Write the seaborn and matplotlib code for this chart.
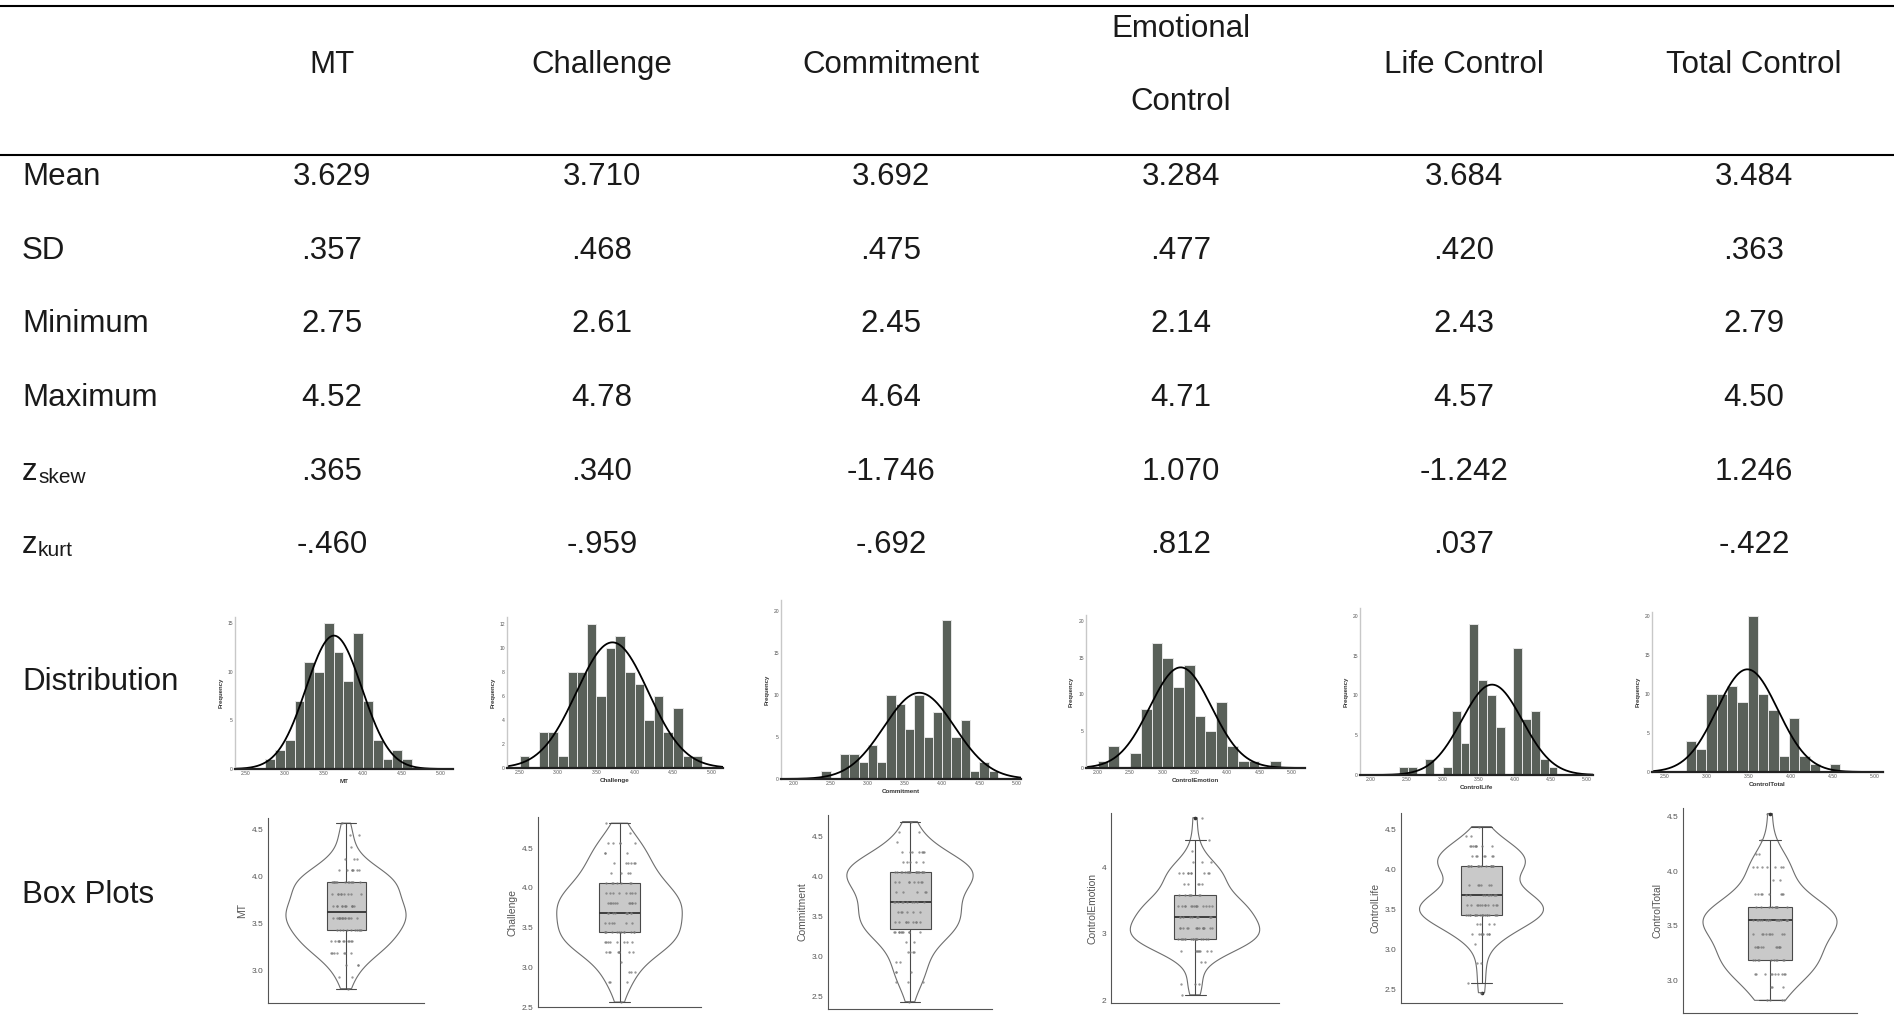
import numpy as np
import pandas as pd
import matplotlib.pyplot as plt
import seaborn as sns

# descriptive statistics table
headers = ["MT", "Challenge", "Commitment", "Emotional\nControl", "Life Control", "Total Control"]
var_names = ["MT", "Challenge", "Commitment", "ControlEmotion", "ControlLife", "ControlTotal"]
means = [3.629, 3.710, 3.692, 3.284, 3.684, 3.484]
sds = [0.357, 0.468, 0.475, 0.477, 0.420, 0.363]
minimums = [2.75, 2.61, 2.45, 2.14, 2.43, 2.79]
maximums = [4.52, 4.78, 4.64, 4.71, 4.57, 4.50]
z_skew = [0.365, 0.340, -1.746, 1.070, -1.242, 1.246]
z_kurt = [-0.460, -0.959, -0.692, 0.812, 0.037, -0.422]

# histogram frequencies
counts_mt = [1, 2, 3, 7, 11, 10, 15, 12, 9, 14, 7, 3, 1, 2, 1]
counts_challenge = [1, 0, 3, 3, 1, 8, 8, 12, 6, 10, 11, 8, 7, 4, 6, 3, 5, 1, 1]
counts_commitment = [1, 0, 3, 3, 2, 4, 2, 10, 9, 6, 10, 5, 8, 19, 5, 7, 1, 2, 1]
counts_emotion = [1, 3, 0, 2, 8, 17, 15, 11, 14, 7, 5, 9, 3, 1, 1, 0, 1]
counts_life = [1, 1, 0, 2, 0, 1, 8, 4, 19, 12, 10, 6, 0, 16, 7, 8, 2, 1]
counts_total = [4, 3, 10, 10, 11, 9, 20, 10, 8, 2, 7, 2, 1, 0, 1]
bin_starts = [2.75, 2.50, 2.375, 2.00, 2.393, 2.753]
bin_widths = [0.125, 0.125, 0.125, 1 / 6, 0.1221, 0.1225]

all_counts = [counts_mt, counts_challenge, counts_commitment,
              counts_emotion, counts_life, counts_total]

W, H = 1894, 1017
sns.set_style("white")
plt.rcParams['font.family'] = ['Liberation Sans', 'DejaVu Sans']

fig = plt.figure(figsize=(W / 100, H / 100), dpi=100)
base = fig.add_axes([0, 0, 1, 1])
base.set_xlim(0, W)
base.set_ylim(H, 0)
base.axis('off')


def px_axes(left, right, top, bottom):
    return fig.add_axes([left / W, 1 - bottom / H, (right - left) / W, (bottom - top) / H])


def fmt3(v):
    s = f"{v:.3f}"
    if abs(v) < 1:
        s = s.replace("0.", ".", 1)
    return s


def fmt2(v):
    return f"{v:.2f}"


txt_color = "#1a1a1a"
fs = 22.5
col_x = [332, 602, 891, 1181, 1464, 1754]

# table rules
base.plot([0, W], [6, 6], color="black", lw=1.5)
base.plot([0, W], [155, 155], color="black", lw=1.5)

# header
for x, h in zip(col_x, headers):
    if "\n" in h:
        top_line, bottom_line = h.split("\n")
        base.text(x, 37, top_line, fontsize=fs, ha="center", va="baseline", color=txt_color)
        base.text(x, 110, bottom_line, fontsize=fs, ha="center", va="baseline", color=txt_color)
    else:
        base.text(x, 73, h, fontsize=fs, ha="center", va="baseline", color=txt_color)

rows = [("Mean", means, fmt3, 185), ("SD", sds, fmt3, 259),
        ("Minimum", minimums, fmt2, 332), ("Maximum", maximums, fmt2, 406)]
for label, vals, f, y in rows:
    base.text(22, y, label, fontsize=fs, ha="left", va="baseline", color=txt_color)
    for x, v in zip(col_x, vals):
        base.text(x, y, f(v), fontsize=fs, ha="center", va="baseline", color=txt_color)

for sub, vals, y in [("skew", z_skew, 480), ("kurt", z_kurt, 553)]:
    base.text(22, y, "z", fontsize=fs, ha="left", va="baseline", color=txt_color)
    base.text(38, y + 3, sub, fontsize=15, ha="left", va="baseline", color=txt_color)
    for x, v in zip(col_x, vals):
        base.text(x, y, fmt3(v), fontsize=fs, ha="center", va="baseline", color=txt_color)

base.text(22, 690, "Distribution", fontsize=fs, ha="left", va="baseline", color=txt_color)
base.text(22, 903, "Box Plots", fontsize=fs, ha="left", va="baseline", color=txt_color)

# histogram panels: left, right, top, bottom (px), xlim, ylim, xticks, yticks
ticks_a = [2.5, 3.0, 3.5, 4.0, 4.5, 5.0]
ticks_b = [2.0, 2.5, 3.0, 3.5, 4.0, 4.5, 5.0]
hist_layout = [
    (235, 453, 617, 769, (2.364, 5.151), 15.6, ticks_a, [0, 5, 10, 15]),
    (507, 723, 617, 768, (2.335, 5.152), 12.55, ticks_a, [0, 2, 4, 6, 8, 10, 12]),
    (781, 1021, 600, 779, (1.832, 5.06), 21.36, ticks_b, [0, 5, 10, 15, 20]),
    (1086, 1305, 615, 768, (1.82, 5.206), 20.77, ticks_b, [0, 5, 10, 15, 20]),
    (1360, 1593, 608, 775, (1.852, 5.085), 21.0, ticks_b, [0, 5, 10, 15, 20]),
    (1652, 1883, 612, 772, (2.35, 5.097), 20.56, ticks_a, [0, 5, 10, 15, 20]),
]

violin_values = []
for i, counts in enumerate(all_counts):
    l, r, t, b, xl, ytop, xt, yt = hist_layout[i]
    ax = px_axes(l, r, t, b)
    edges = bin_starts[i] + bin_widths[i] * np.arange(len(counts) + 1)
    centers = (edges[:-1] + edges[1:]) / 2
    violin_values.append(np.repeat(centers, counts))
    hist_df = pd.DataFrame({"value": centers, "freq": counts})
    sns.histplot(data=hist_df, x="value", weights="freq", bins=[float(e) for e in edges], ax=ax,
                 color="#596059", edgecolor="#e6e6e6", linewidth=0.7, alpha=1)
    xs = np.linspace(xl[0], xl[1], 400)
    n = sum(counts)
    ys = n * bin_widths[i] * np.exp(-0.5 * ((xs - means[i]) / sds[i]) ** 2) / (sds[i] * np.sqrt(2 * np.pi))
    ax.plot(xs, ys, color="black", lw=1.3)
    ax.set_xlim(*xl)
    ax.set_ylim(0, ytop)
    ax.set_xticks(xt)
    ax.set_xticklabels([f"{v:.2f}" for v in xt])
    ax.set_yticks(yt)
    ax.tick_params(length=0, labelsize=3.6, labelcolor="#555555", pad=1.5)
    ax.set_xlabel(var_names[i], fontsize=4.5, fontweight="bold", color="#333333", labelpad=2)
    ax.set_ylabel("Frequency", fontsize=4.3, fontweight="bold", color="#333333", labelpad=3)
    sns.despine(ax=ax)
    ax.spines["left"].set_color("#c8c8c8")
    ax.spines["left"].set_linewidth(1.0)
    ax.spines["bottom"].set_color("#222222")
    ax.spines["bottom"].set_linewidth(1.6)
    ax.patch.set_alpha(0)

# violin + box + jittered points
violin_layout = [
    (268, 424, 818, 1003, (2.661, 4.617), [3.0, 3.5, 4.0, 4.5]),
    (538, 701, 817, 1007, (2.5, 4.89), [2.5, 3.0, 3.5, 4.0, 4.5]),
    (828, 992, 815, 1009, (2.346, 4.77), [2.5, 3.0, 3.5, 4.0, 4.5]),
    (1111, 1279, 813, 1003, (1.96, 4.82), [2, 3, 4]),
    (1401, 1562, 813, 1003, (2.325, 4.70), [2.5, 3.0, 3.5, 4.0, 4.5]),
    (1683, 1857, 808, 1013, (2.698, 4.58), [3.0, 3.5, 4.0, 4.5]),
]

np.random.seed(3)
for i, vals in enumerate(violin_values):
    l, r, t, b, yl, yt = violin_layout[i]
    ax = px_axes(l, r, t, b)
    df = pd.DataFrame({var_names[i]: vals})
    sns.violinplot(data=df, y=var_names[i], ax=ax, cut=0, fill=False, inner=None,
                   color="#6e6e6e", linewidth=0.8, width=0.77)
    sns.boxplot(data=df, y=var_names[i], ax=ax, width=0.25, color="#c9c9c9", saturation=1,
                linecolor="#4a4a4a", linewidth=0.8, fliersize=1.6,
                medianprops=dict(color="#333333", linewidth=1.3),
                flierprops=dict(marker="o", markerfacecolor="#333333", markeredgecolor="#333333"))
    sns.stripplot(data=df, y=var_names[i], ax=ax, jitter=0.1, size=1.7,
                  color="#777777", alpha=0.75)
    ax.set_xlim(-0.5, 0.5)
    ax.set_ylim(*yl)
    ax.set_yticks(yt)
    ax.set_yticklabels([f"{v:g}" if isinstance(v, int) else f"{v:.1f}" for v in yt])
    ax.set_xticks([])
    ax.set_xlabel("")
    ax.set_ylabel(var_names[i], fontsize=7.5, color="#555555", labelpad=3)
    ax.tick_params(axis="y", length=2, width=0.6, color="#555555", labelsize=6,
                   labelcolor="#555555", pad=1.5)
    sns.despine(ax=ax)
    for s in ["left", "bottom"]:
        ax.spines[s].set_color("#555555")
        ax.spines[s].set_linewidth(0.8)
    ax.patch.set_alpha(0)

fig.savefig("out.png", dpi=100, facecolor="white")
